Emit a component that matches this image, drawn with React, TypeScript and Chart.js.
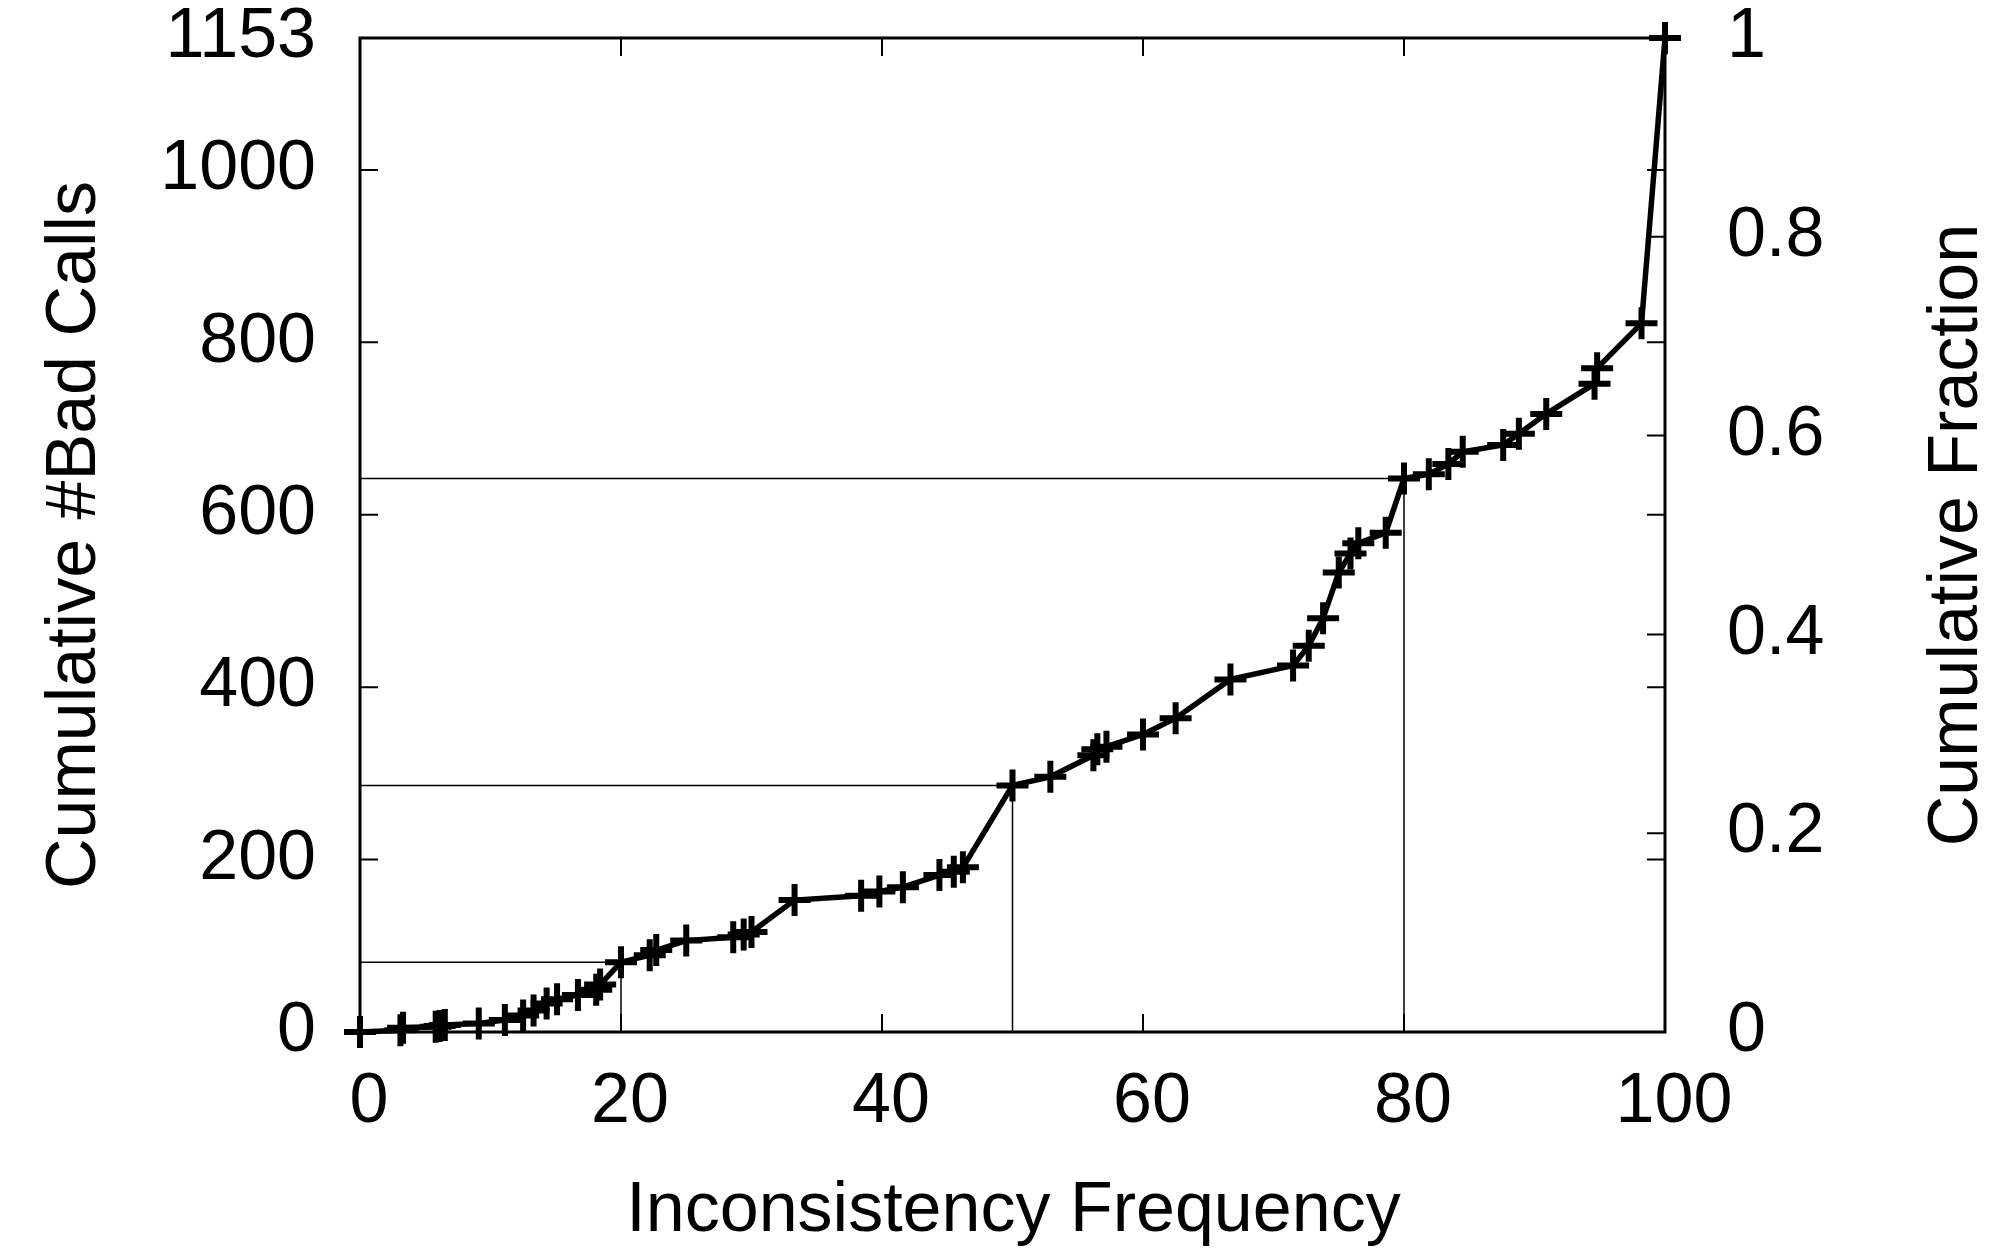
import React, { useEffect, useRef } from "react";
import { Chart, registerables } from "chart.js";

Chart.register(...registerables);

// ---- data ----
const freqX = [
  0, 3.1, 3.3, 5.8, 6.1, 6.5, 9.1, 11.1, 12.5, 13.3, 14.3, 15.1, 16.7, 18.1, 18.4,
  20.0, 22.2, 22.7, 25.0, 28.6, 29.4, 30.0, 33.3, 38.4, 39.8, 41.6, 44.4, 45.5, 46.2,
  50.0, 52.9, 56.2, 56.5, 57.2, 60.0, 62.5, 66.7, 71.5, 72.7, 73.8, 75.0, 75.9, 76.5,
  78.6, 80.0, 81.9, 83.4, 84.5, 87.6, 88.8, 90.9, 94.6, 94.8, 98.2, 100,
];
const badCalls = [
  0, 2, 5, 6, 7, 8, 10, 14, 19, 25, 33, 38, 43, 49, 55,
  81, 89, 95, 106, 110, 113, 116, 153, 158, 163, 168, 182, 186, 191,
  286, 296, 321, 328, 331, 345, 364, 409, 425, 448, 480, 533, 555, 567,
  579, 642, 647, 659, 673, 681, 694, 717, 752, 770, 822, 1153,
];
const guideX = [20, 50, 80];
const guideY = [81, 286, 642];
const xTickValues = [0, 20, 40, 60, 80, 100];
const yTickValues = [0, 200, 400, 600, 800, 1000, 1153];
const y2TickValues = [0, 0.2, 0.4, 0.6, 0.8, 1];
const Y_MAX = 1153;
const xTitle = "Inconsistency Frequency";
const yTitle = "Cumulative #Bad Calls";
const y2Title = "Cumulative Fraction";

const FONT = "'Liberation Sans', Arial, Helvetica, sans-serif";
const TICK_SIZE = 70;
const TITLE_SIZE = 70;

const noPad = (s: any) => {
  s.paddingTop = 0;
  s.paddingBottom = 0;
  s.paddingLeft = 0;
  s.paddingRight = 0;
};

const framePlugin = {
  id: "frameTicks",
  beforeDatasetsDraw(chart: any) {
    const { ctx, chartArea: a, scales } = chart;
    const L = 18;
    ctx.save();
    ctx.strokeStyle = "#000";
    ctx.lineWidth = 2;
    ctx.beginPath();
    for (const v of xTickValues) {
      const px = scales.x.getPixelForValue(v);
      ctx.moveTo(px, a.bottom);
      ctx.lineTo(px, a.bottom - L);
      ctx.moveTo(px, a.top);
      ctx.lineTo(px, a.top + L);
    }
    for (const v of yTickValues) {
      const py = scales.y.getPixelForValue(v);
      ctx.moveTo(a.left, py);
      ctx.lineTo(a.left + L, py);
      ctx.moveTo(a.right, py);
      ctx.lineTo(a.right - L, py);
    }
    for (const v of y2TickValues) {
      const py = scales.y2.getPixelForValue(v);
      ctx.moveTo(a.right, py);
      ctx.lineTo(a.right - L, py);
    }
    ctx.stroke();
    ctx.lineWidth = 3;
    ctx.strokeRect(a.left, a.top, a.right - a.left, a.bottom - a.top);
    ctx.restore();
  },
  afterDraw(chart: any) {
    const { ctx, chartArea: a } = chart;
    ctx.save();
    ctx.fillStyle = "#000";
    ctx.font = `${TITLE_SIZE}px ${FONT}`;
    ctx.textBaseline = "alphabetic";
    ctx.textAlign = "center";
    const cy = (a.top + a.bottom) / 2;
    ctx.fillText(xTitle, (a.left + a.right) / 2 + 1, 1231);
    ctx.save();
    ctx.translate(95, cy);
    ctx.rotate(-Math.PI / 2);
    ctx.fillText(yTitle, 0, 0);
    ctx.restore();
    ctx.save();
    ctx.translate(1977, cy);
    ctx.rotate(-Math.PI / 2);
    ctx.fillText(y2Title, 0, 0);
    ctx.restore();
    ctx.restore();
  },
};

export default function App() {
  const canvasRef = useRef<HTMLCanvasElement | null>(null);

  useEffect(() => {
    if (!canvasRef.current) return;
    const mainData = freqX.map((x, i) => ({ x, y: badCalls[i] }));
    const guideSets = guideX.map((gx, i) => ({
      data: [
        { x: 0, y: guideY[i] },
        { x: gx, y: guideY[i] },
        { x: gx, y: 0 },
      ],
      showLine: true,
      borderColor: "#000",
      borderWidth: 1.5,
      pointRadius: 0,
      order: 2,
      yAxisID: "y",
    }));
    const tickFont = { family: FONT, size: TICK_SIZE };
    const chart = new Chart(canvasRef.current, {
      type: "scatter",
      data: {
        datasets: [
          {
            data: mainData,
            showLine: true,
            borderColor: "#000",
            borderWidth: 5.5,
            pointStyle: "cross",
            pointRadius: 16,
            pointBorderWidth: 6,
            pointBorderColor: "#000",
            pointBackgroundColor: "#000",
            clip: false,
            order: 1,
            yAxisID: "y",
          } as any,
          ...guideSets,
        ],
      },
      options: {
        animation: false,
        responsive: false,
        devicePixelRatio: 1,
        layout: { padding: { top: 38, left: 0, right: 0, bottom: 0 } },
        plugins: { legend: { display: false }, tooltip: { enabled: false } },
        scales: {
          x: {
            type: "linear",
            position: "bottom",
            min: 0,
            max: 100,
            grid: { display: false, drawTicks: false },
            border: { display: false },
            afterBuildTicks: (s: any) => {
              s.ticks = xTickValues.map((v) => ({ value: v }));
            },
            afterFit: (s: any) => {
              s.height = 1260 - 1032;
              noPad(s);
            },
            ticks: {
              autoSkip: false,
              maxRotation: 0,
              color: "#000",
              font: tickFont,
              padding: 29,
              labelOffset: 9,
              callback: (v: any) => String(v),
            },
          },
          y: {
            type: "linear",
            position: "left",
            min: 0,
            max: Y_MAX,
            grid: { display: false, drawTicks: false },
            border: { display: false },
            afterBuildTicks: (s: any) => {
              s.ticks = yTickValues.map((v) => ({ value: v }));
            },
            afterFit: (s: any) => {
              s.width = 360;
              noPad(s);
            },
            ticks: {
              autoSkip: false,
              color: "#000",
              font: tickFont,
              padding: 44,
              callback: (v: any) => String(v),
            },
          },
          y2: {
            type: "linear",
            position: "right",
            min: 0,
            max: 1,
            grid: { display: false, drawTicks: false },
            border: { display: false },
            afterBuildTicks: (s: any) => {
              s.ticks = y2TickValues.map((v) => ({ value: v }));
            },
            afterFit: (s: any) => {
              s.width = 1991 - 1665;
              noPad(s);
            },
            ticks: {
              autoSkip: false,
              color: "#000",
              font: tickFont,
              padding: 62,
              callback: (v: any) => String(v),
            },
          },
        },
      } as any,
      plugins: [framePlugin],
    });
    return () => chart.destroy();
  }, []);

  return (
    <div
      style={{
        position: "absolute",
        left: 0,
        top: 0,
        width: 1991,
        height: 1260,
        background: "#fff",
      }}
    >
      <canvas ref={canvasRef} width={1991} height={1260} />
    </div>
  );
}
